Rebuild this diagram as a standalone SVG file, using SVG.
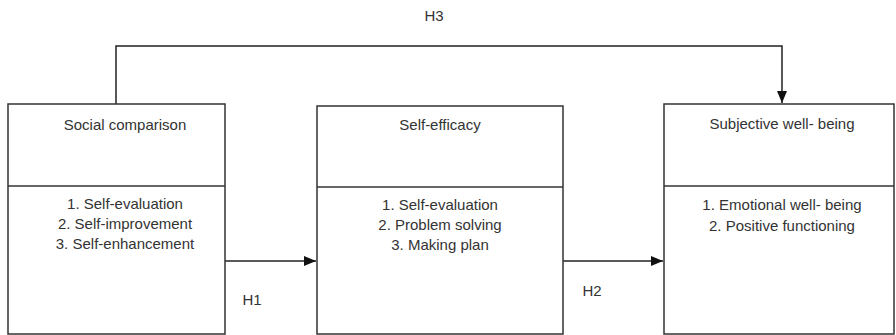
<svg xmlns="http://www.w3.org/2000/svg" width="896" height="335" viewBox="0 0 896 335">
<style>
.box{fill:#fff;stroke:#333;stroke-width:1.5}
.div{stroke:#333;stroke-width:1.5}
.t{font-family:"Liberation Sans",Arial,sans-serif;font-size:15px;fill:#333;text-anchor:middle}
.c{fill:none;stroke:#222;stroke-width:1.5}
</style>
<defs>
<marker id="ah" viewBox="0 0 12 10" refX="12" refY="5" markerWidth="12" markerHeight="10" markerUnits="userSpaceOnUse" orient="auto">
<path d="M0,0 L12,5 L0,10 Z" fill="#111"/>
</marker>
</defs>
<rect width="896" height="335" fill="#fff"/>
<g id="connectors">
<path class="c" d="M116,104 V46 H782 V103" marker-end="url(#ah)"/>
<path class="c" d="M225,261 H316" marker-end="url(#ah)"/>
<path class="c" d="M563,261 H663" marker-end="url(#ah)"/>
<text class="t" x="434" y="21">H3</text>
<text class="t" x="252" y="305">H1</text>
<text class="t" x="592" y="296">H2</text>
</g>
<g id="social-comparison">
<rect class="box" x="8" y="104" width="217" height="230"/>
<line class="div" x1="8" y1="186" x2="225" y2="186"/>
<text class="t" x="125" y="130">Social comparison</text>
<text class="t" x="125" y="209">1. Self-evaluation</text>
<text class="t" x="125" y="229">2. Self-improvement</text>
<text class="t" x="125" y="249">3. Self-enhancement</text>
</g>
<g id="self-efficacy">
<rect class="box" x="317" y="106" width="246" height="228"/>
<line class="div" x1="317" y1="187" x2="563" y2="187"/>
<text class="t" x="440" y="130">Self-efficacy</text>
<text class="t" x="440" y="210">1. Self-evaluation</text>
<text class="t" x="440" y="230">2. Problem solving</text>
<text class="t" x="440" y="250">3. Making plan</text>
</g>
<g id="subjective-well-being">
<rect class="box" x="664" y="104" width="230" height="230"/>
<line class="div" x1="664" y1="186" x2="894" y2="186"/>
<text class="t" x="782" y="129">Subjective well- being</text>
<text class="t" x="782" y="210">1. Emotional well- being</text>
<text class="t" x="782" y="231">2. Positive functioning</text>
</g>
</svg>
